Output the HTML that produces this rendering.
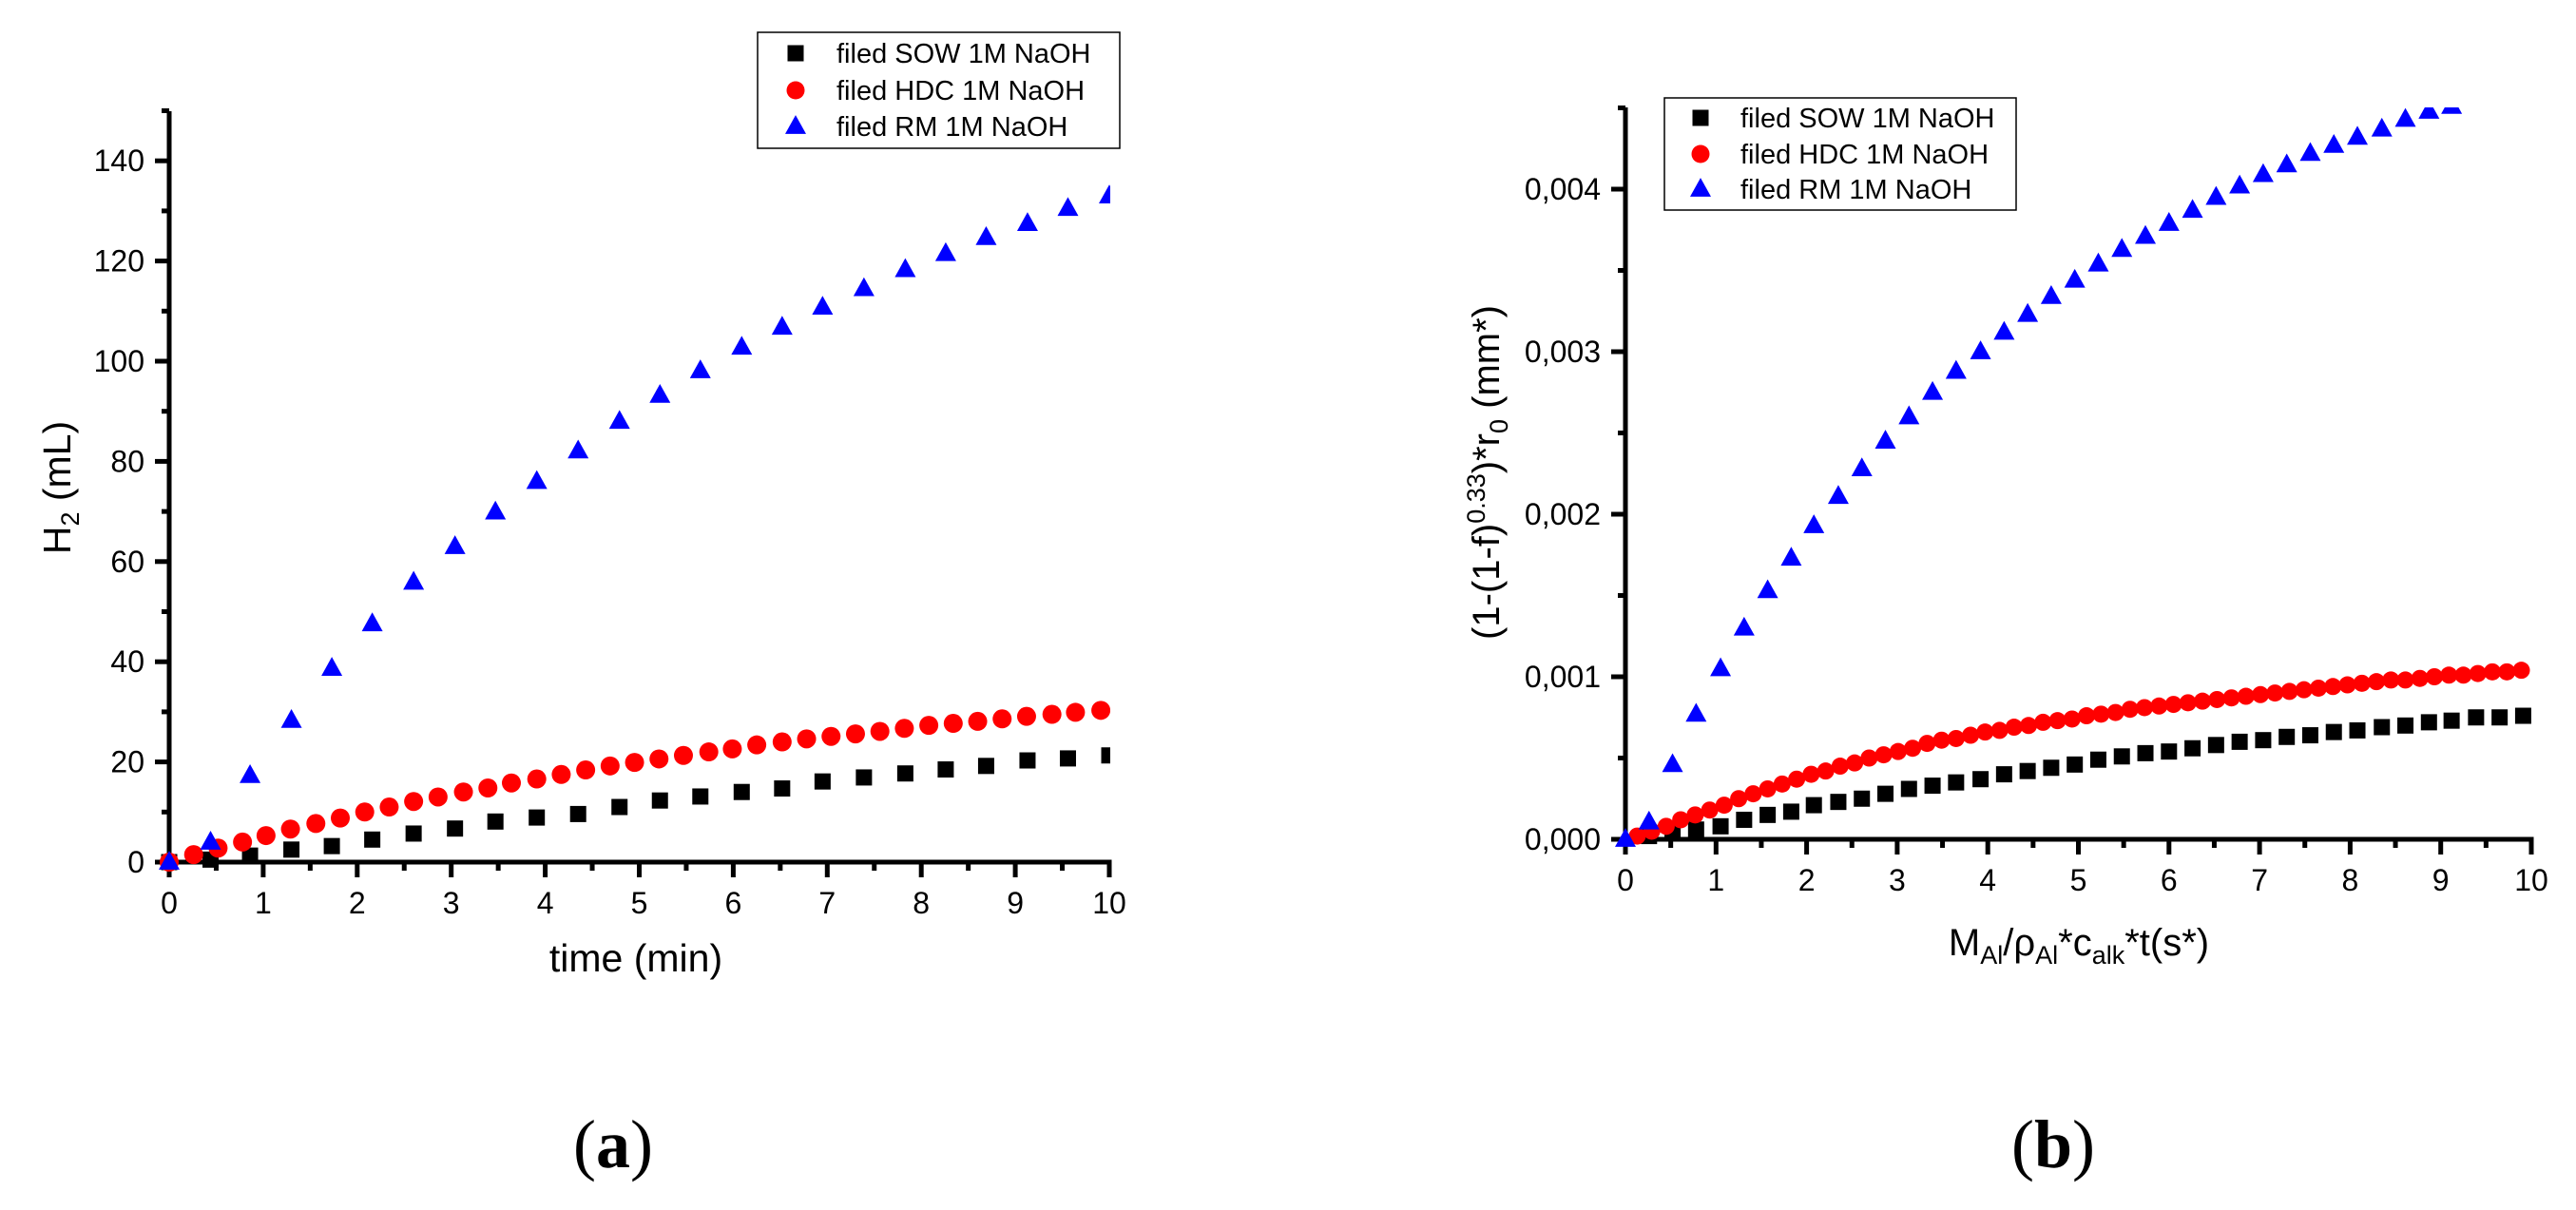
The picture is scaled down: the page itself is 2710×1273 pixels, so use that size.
<!DOCTYPE html>
<html><head><meta charset="utf-8"><style>
html,body{margin:0;padding:0;background:#fff;}
svg{display:block;font-family:"Liberation Sans",Arial,sans-serif;}
</style></head><body>
<svg id="fig" width="2710" height="1273" viewBox="0 0 2710 1273" xmlns="http://www.w3.org/2000/svg">
<defs>
<clipPath id="clipA"><rect x="160" y="110" width="1008" height="810"/></clipPath>
<clipPath id="clipB"><rect x="1695" y="113" width="970" height="785"/></clipPath>
</defs>
<g id="chartA"></g>
<g id="chartB"></g>
<text x="645" y="1228" text-anchor="middle" font-family="Liberation Serif,serif" font-size="72">(<tspan font-weight="bold">a</tspan>)</text>
<text x="2160" y="1228" text-anchor="middle" font-family="Liberation Serif,serif" font-size="72">(<tspan font-weight="bold">b</tspan>)</text>
</svg>
<script>
// ---- Chart A data ----
const aRmX = [0,0.44,0.86,1.3,1.73,2.16,2.6,3.04,3.47,3.91,4.35,4.79,5.22,5.65,6.09,6.52,6.95,7.39,7.83,8.26,8.69,9.13,9.56,10];
const aRmY = [0,4,17.3,28.3,38.7,47.6,55.9,63,69.9,76,82.1,88,93.2,98.1,102.8,106.8,110.8,114.5,118.3,121.5,124.7,127.5,130.5,133];
const aSowX = [0,0.44,0.86,1.3,1.73,2.16,2.6,3.04,3.47,3.91,4.35,4.79,5.22,5.65,6.09,6.52,6.95,7.39,7.83,8.26,8.69,9.13,9.56,10];
const aSowY = [0,0.5,1.3,2.5,3.2,4.5,5.7,6.7,8.1,8.9,9.6,11,12.3,13.1,14,14.7,16.1,16.9,17.7,18.5,19.2,20.3,20.7,21.3];
const aHdcX = [0,0.26,0.52,0.78,1.03,1.29,1.56,1.82,2.08,2.34,2.6,2.86,3.13,3.39,3.64,3.91,4.17,4.43,4.69,4.95,5.21,5.47,5.74,5.99,6.25,6.52,6.78,7.04,7.3,7.56,7.82,8.08,8.34,8.6,8.86,9.12,9.39,9.64,9.91];
const aHdcY = [0,1.5,2.8,4,5.3,6.6,7.7,8.8,10,11,12.1,13,14,14.8,15.8,16.6,17.5,18.4,19.2,19.9,20.6,21.3,22,22.6,23.4,24,24.6,25.1,25.6,26.1,26.7,27.3,27.7,28.1,28.6,29.1,29.5,29.9,30.3];
const aXTicks = [0,1,2,3,4,5,6,7,8,9,10];
const aYTicks = [0,20,40,60,80,100,120,140];
// ---- Chart B data (y in units of 0.001) ----
const bRmX = [0,0.26,0.52,0.78,1.05,1.31,1.57,1.83,2.08,2.35,2.61,2.87,3.13,3.39,3.65,3.92,4.18,4.44,4.7,4.96,5.22,5.48,5.74,6.0,6.26,6.52,6.78,7.04,7.3,7.56,7.82,8.08,8.35,8.61,8.87,9.12];
const bRmY = [0,0.107,0.46,0.77,1.05,1.30,1.53,1.73,1.93,2.11,2.28,2.45,2.60,2.75,2.88,3.00,3.12,3.23,3.34,3.44,3.54,3.63,3.71,3.79,3.87,3.95,4.02,4.09,4.15,4.22,4.27,4.32,4.37,4.43,4.48,4.51];
const bSowX = [0.26,0.52,0.78,1.05,1.31,1.57,1.83,2.08,2.35,2.61,2.87,3.13,3.39,3.65,3.92,4.18,4.44,4.7,4.96,5.22,5.48,5.74,6.0,6.26,6.52,6.78,7.04,7.3,7.56,7.82,8.08,8.35,8.61,8.87,9.12,9.39,9.65,9.91];
const bSowY = [0.02,0.04,0.06,0.08,0.12,0.15,0.17,0.21,0.23,0.25,0.28,0.31,0.33,0.35,0.37,0.40,0.42,0.44,0.46,0.49,0.51,0.53,0.54,0.56,0.58,0.60,0.61,0.63,0.64,0.66,0.67,0.69,0.70,0.72,0.73,0.75,0.75,0.76];
const bHdcX = [0.13,0.29,0.45,0.61,0.77,0.93,1.09,1.25,1.41,1.57,1.73,1.89,2.05,2.21,2.37,2.53,2.69,2.85,3.01,3.17,3.33,3.49,3.65,3.81,3.97,4.13,4.29,4.45,4.61,4.77,4.93,5.09,5.25,5.41,5.57,5.73,5.89,6.05,6.21,6.37,6.53,6.69,6.85,7.01,7.17,7.33,7.49,7.65,7.81,7.97,8.13,8.29,8.45,8.61,8.77,8.93,9.09,9.25,9.41,9.57,9.73,9.89];
const bHdcY = [0.02,0.05,0.08,0.12,0.15,0.18,0.21,0.25,0.28,0.31,0.34,0.37,0.40,0.42,0.45,0.47,0.50,0.52,0.54,0.56,0.59,0.61,0.62,0.64,0.66,0.67,0.69,0.70,0.72,0.73,0.74,0.76,0.77,0.78,0.80,0.81,0.82,0.83,0.84,0.85,0.86,0.87,0.88,0.89,0.90,0.91,0.92,0.93,0.94,0.95,0.96,0.97,0.98,0.98,0.99,1.00,1.01,1.01,1.02,1.03,1.03,1.04];
const bXTicks = [0,1,2,3,4,5,6,7,8,9,10];
const bYTicks = [0,1,2,3,4];
const bYTickLabels = ["0,000","0,001","0,002","0,003","0,004"];

const NS = "http://www.w3.org/2000/svg";
function mk(parent, tag, attrs){ const e=document.createElementNS(NS,tag); for(const k in attrs) e.setAttribute(k,attrs[k]); parent.appendChild(e); return e; }

function marker(g, kind, cx, cy, s){
  let e;
  if(kind==='sq'){ e=mk(g,'rect',{x:cx-s/2,y:cy-s/2,width:s,height:s,fill:'#000'}); }
  else if(kind==='ci'){ e=mk(g,'circle',{cx:cx,cy:cy,r:s/2,fill:'#ff0000'}); }
  else { const h=s*0.9; e=mk(g,'polygon',{points:`${cx},${cy-h*0.6} ${cx-s/2},${cy+h*0.4} ${cx+s/2},${cy+h*0.4}`,fill:'#0000ff'}); }
  return e;
}

function drawAxes(g, o){
  const {x0,x1,y0,yTop,sx,sy,xTicks,yTicks,yLabels,xMinor,yMinor,yMax} = o;
  const ax = mk(g,'g',{});
  
  
  mk(ax,'line',{x1:x0,y1:yTop,x2:x0,y2:y0+2.5,stroke:'#000','stroke-width':5});
  mk(ax,'line',{x1:x0-15,y1:y0,x2:x1+2.5,y2:y0,stroke:'#000','stroke-width':5});
  xTicks.forEach(v=>{
    const x=sx(v);
    mk(ax,'line',{x1:x,y1:y0,x2:x,y2:y0+16,stroke:'#000','stroke-width':5});
    const t=mk(ax,'text',{x:x,y:o.xLabelY,'text-anchor':'middle','font-size':32});
    t.textContent=v;
    
    
  });
  for(let v=xMinor;v<xTicks[xTicks.length-1];v+=2*xMinor){
    const x=sx(v);
    mk(ax,'line',{x1:x,y1:y0,x2:x,y2:y0+9,stroke:'#000','stroke-width':5});
  }
  yTicks.forEach((v,i)=>{
    const y=sy(v);
    mk(ax,'line',{x1:x0-15,y1:y,x2:x0,y2:y,stroke:'#000','stroke-width':5});
    const t=mk(ax,'text',{x:o.yLabelX,y:y+11,'text-anchor':'end','font-size':32});
    t.textContent=yLabels?yLabels[i]:v;
    
    
  });
  for(let v=yMinor;v<=yMax+1e-9;v+=2*yMinor){
    const y=sy(v);
    mk(ax,'line',{x1:x0-8,y1:y,x2:x0,y2:y,stroke:'#000','stroke-width':5});
  }
}

function drawSeries(g, clip, xs, ys, sx, sy, kind, s, name){
  const sg=mk(g,'g',{'clip-path':`url(#${clip})`});
  
  
  xs.forEach((x,i)=>{
    const m=marker(sg,kind,sx(x),sy(ys[i]),s);
    
    
  });
}

function drawLegend(g, x, y, w, h, mx, tx, ys, fs){
  const lg=mk(g,'g',{});
  
  
  mk(lg,'rect',{x:x,y:y,width:w,height:h,fill:'#fff',stroke:'#000','stroke-width':1.5});
  const labels=['filed SOW 1M NaOH','filed HDC 1M NaOH','filed RM 1M NaOH'];
  const kinds=['sq','ci','tr'];
  const sizes=[17,19,22];
  labels.forEach((l,i)=>{
    const e=mk(lg,'g',{});
    
    
    marker(e,kinds[i],mx,ys[i],sizes[i]);
    const t=mk(e,'text',{x:tx,y:ys[i]+10,'font-size':fs});
    t.textContent=l;
  });
}

// Chart A
(function(){
  const g=document.getElementById('chartA');
  const x0=178,x1=1167,y0=907,ppu=5.27;
  const sx=v=>x0+(x1-x0)*v/10, sy=v=>y0-v*ppu;
  drawAxes(g,{x0,x1,y0,yTop:117,sx,sy,xTicks:aXTicks,yTicks:aYTicks,xMinor:0.5,yMinor:10,yMax:150,xLabelY:961,yLabelX:152});
  drawSeries(g,'clipA',aSowX,aSowY,sx,sy,'sq',17,'series-sow');
  drawSeries(g,'clipA',aHdcX,aHdcY,sx,sy,'ci',20,'series-hdc');
  drawSeries(g,'clipA',aRmX,aRmY,sx,sy,'tr',22,'series-rm');
  const xt=mk(g,'text',{x:669,y:1022,'text-anchor':'middle','font-size':41});
  xt.textContent='time (min)';
  
  
  const yt=mk(g,'text',{x:0,y:0,'text-anchor':'middle','font-size':41,transform:'translate(74,513) rotate(-90)'});
  yt.innerHTML='H<tspan font-size="27" dy="9">2</tspan><tspan dy="-9"> (mL)</tspan>';
  
  
  drawLegend(g,797,34,381,122,837,880,[56,95,133],29);
})();

// Chart B
(function(){
  const g=document.getElementById('chartB');
  const x0=1710,x1=2663,y0=883,ppu=171;
  const sx=v=>x0+(x1-x0)*v/10, sy=v=>y0-v*ppu;
  drawAxes(g,{x0,x1,y0,yTop:113,sx,sy,xTicks:bXTicks,yTicks:bYTicks,yLabels:bYTickLabels,xMinor:0.5,yMinor:0.5,yMax:4.5,xLabelY:937,yLabelX:1684});
  drawSeries(g,'clipB',bSowX,bSowY,sx,sy,'sq',17,'series-sow');
  drawSeries(g,'clipB',bHdcX,bHdcY,sx,sy,'ci',18,'series-hdc');
  drawSeries(g,'clipB',bRmX,bRmY,sx,sy,'tr',22,'series-rm');
  const xt=mk(g,'text',{x:2187,y:1005,'text-anchor':'middle','font-size':40});
  xt.innerHTML='M<tspan font-size="27" dy="9">Al</tspan><tspan dy="-9">/ρ</tspan><tspan font-size="27" dy="9">Al</tspan><tspan dy="-9">*c</tspan><tspan font-size="27" dy="9">alk</tspan><tspan dy="-9">*t(s*)</tspan>';
  
  
  const yt=mk(g,'text',{x:0,y:0,'text-anchor':'middle','font-size':40,transform:'translate(1577,497) rotate(-90)'});
  yt.innerHTML='(1-(1-f)<tspan font-size="27" dy="-15">0.33</tspan><tspan dy="15">)*r</tspan><tspan font-size="27" dy="9">0</tspan><tspan dy="-9"> (mm*)</tspan>';
  
  
  drawLegend(g,1751,103,370,118,1789,1831,[124,162,199],29);
})();
</script>
</body></html>
